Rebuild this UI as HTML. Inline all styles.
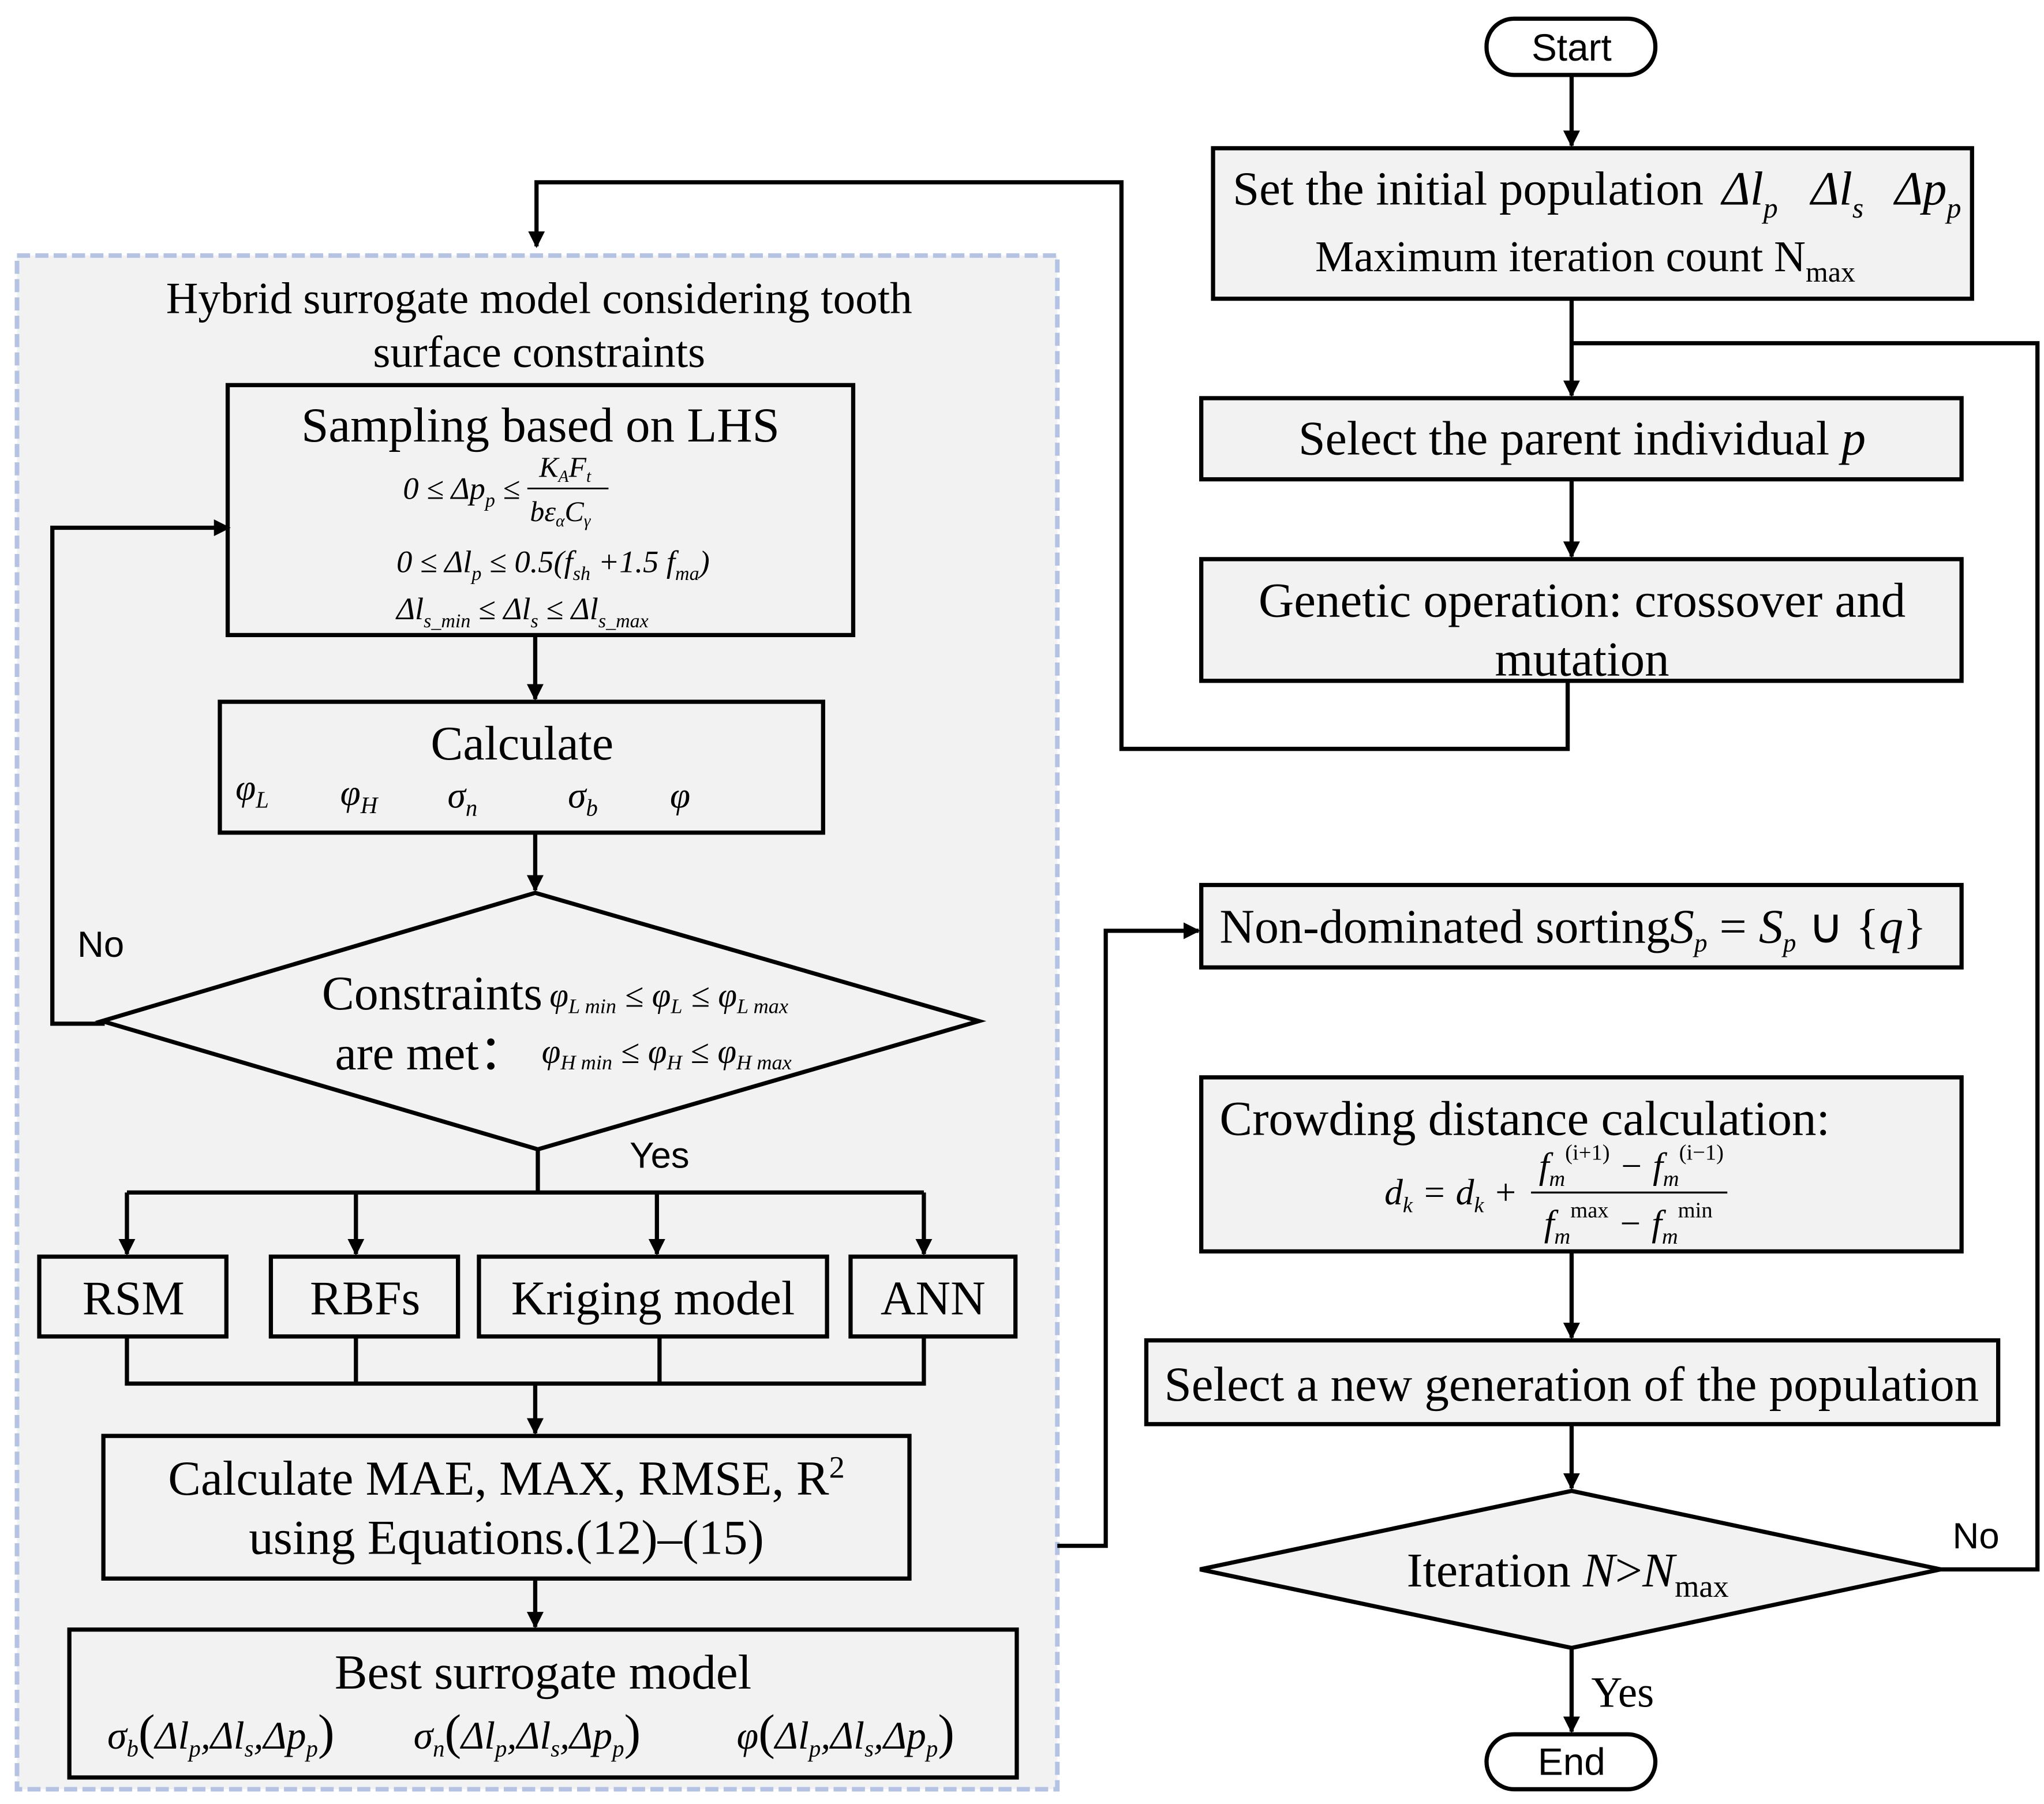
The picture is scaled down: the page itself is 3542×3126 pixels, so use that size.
<!DOCTYPE html>
<html><head><meta charset="utf-8"><style>
html,body{margin:0;padding:0;background:#fff}
svg{display:block}
.s{font-family:"Liberation Serif",serif;fill:#000}
.a{font-family:"Liberation Sans",sans-serif;fill:#000}
.i{font-style:italic}
</style></head><body>
<svg width="3542" height="3126" viewBox="0 0 1562 1378" xmlns="http://www.w3.org/2000/svg">
<defs><marker id="ar" viewBox="0 0 10 10" refX="9" refY="5" markerWidth="4" markerHeight="4" orient="auto"><path d="M0,0L10,5L0,10z" fill="#000"/></marker></defs>
<rect x="0" y="0" width="1562" height="1378" fill="#fff"/>
<rect x="13" y="195" width="795" height="1172" fill="#f2f2f2" stroke="#b4c3e3" stroke-width="3.5" stroke-dasharray="10,4"/>
<g fill="#f2f2f2" stroke="#000" stroke-width="3.2">
<rect x="1136" y="14" width="129" height="43" rx="21" fill="#fff"/>
<rect x="927" y="113" width="580" height="115"/>
<rect x="918" y="304" width="581" height="62"/>
<rect x="918" y="427" width="581" height="93"/>
<rect x="174" y="294" width="478" height="191"/>
<rect x="168" y="536" width="461" height="100"/>
<polygon points="409,682 748,780 411,878 78,780"/>
<rect x="30" y="960" width="143" height="61"/>
<rect x="207" y="960" width="143" height="61"/>
<rect x="366" y="960" width="266" height="61"/>
<rect x="650" y="960" width="126" height="61"/>
<rect x="79" y="1097" width="616" height="109"/>
<rect x="53" y="1245" width="724" height="113"/>
<rect x="918" y="676" width="581" height="63"/>
<rect x="918" y="823" width="581" height="133"/>
<rect x="876" y="1024" width="651" height="64"/>
<polygon points="1201,1139 1483,1199 1201,1259 917,1199"/>
<rect x="1136" y="1325" width="129" height="42" rx="21" fill="#fff"/>
</g>
<g fill="none" stroke="#000" stroke-width="3.2">
<line x1="1201" y1="57" x2="1201" y2="111" marker-end="url(#ar)"/>
<line x1="1201" y1="228" x2="1201" y2="302" marker-end="url(#ar)"/>
<polyline points="1483,1199 1557,1199 1557,262 1201,262"/>
<line x1="1201" y1="366" x2="1201" y2="425" marker-end="url(#ar)"/>
<polyline points="1198,520 1198,572 857,572 857,139 410,139 410,188" marker-end="url(#ar)"/>
<line x1="409" y1="485" x2="409" y2="534" marker-end="url(#ar)"/>
<line x1="409" y1="636" x2="409" y2="680" marker-end="url(#ar)"/>
<polyline points="80,782 40,782 40,403 175,403" marker-end="url(#ar)"/>
<line x1="411" y1="878" x2="411" y2="911"/>
<line x1="97" y1="911" x2="706" y2="911"/>
<line x1="97" y1="911" x2="97" y2="958" marker-end="url(#ar)"/>
<line x1="272" y1="911" x2="272" y2="958" marker-end="url(#ar)"/>
<line x1="502" y1="911" x2="502" y2="958" marker-end="url(#ar)"/>
<line x1="706" y1="911" x2="706" y2="958" marker-end="url(#ar)"/>
<polyline points="97,1021 97,1057 706,1057 706,1021"/>
<line x1="272" y1="1021" x2="272" y2="1057"/>
<line x1="504" y1="1021" x2="504" y2="1057"/>
<line x1="409" y1="1057" x2="409" y2="1095" marker-end="url(#ar)"/>
<line x1="409" y1="1206" x2="409" y2="1243" marker-end="url(#ar)"/>
<polyline points="808,1181 845,1181 845,711 916,711" marker-end="url(#ar)"/>
<line x1="1201" y1="956" x2="1201" y2="1022" marker-end="url(#ar)"/>
<line x1="1201" y1="1088" x2="1201" y2="1137" marker-end="url(#ar)"/>
<line x1="1201" y1="1259" x2="1201" y2="1323" marker-end="url(#ar)"/>
</g>
<g class="a" font-size="29" text-anchor="middle">
<text x="1201" y="46">Start</text>
<text x="1201" y="1356">End</text>
<text x="77" y="731" font-size="28">No</text>
<text x="504" y="892" font-size="28">Yes</text>
<text x="1510" y="1183" font-size="28">No</text>
</g>
<g class="s" font-size="37">
<text x="942" y="156" font-size="36.5">Set the initial population</text>
<text x="1316" y="156" class="i" font-size="36.5">Δl<tspan font-size="22" dy="10">p</tspan></text>
<text x="1384" y="156" class="i" font-size="36.5">Δl<tspan font-size="22" dy="10">s</tspan></text>
<text x="1448" y="156" class="i" font-size="36.5">Δp<tspan font-size="22" dy="10">p</tspan></text>
<text x="1005" y="207" font-size="33.5">Maximum iteration count N<tspan font-size="22" dy="8">max</tspan></text>
<text x="1209" y="347" text-anchor="middle">Select the parent individual <tspan class="i">p</tspan></text>
<text x="1209" y="471" text-anchor="middle" font-size="37.5">Genetic operation: crossover and</text>
<text x="1209" y="516" text-anchor="middle" font-size="37.5">mutation</text>
<text x="412" y="239" text-anchor="middle" font-size="34">Hybrid surrogate model considering tooth</text>
<text x="412" y="280" text-anchor="middle" font-size="34">surface constraints</text>
<text x="413" y="337" text-anchor="middle" font-size="37.5">Sampling based on LHS</text>
<g font-size="24" class="i">
<text x="308" y="381">0 ≤ Δp<tspan font-size="15" dy="6">p</tspan><tspan dy="-6"> ≤</tspan></text>
<text x="412" y="364" font-size="22">K<tspan font-size="13" dy="4">A</tspan><tspan dy="-4">F</tspan><tspan font-size="13" dy="4">t</tspan></text>
<line x1="403" y1="373" x2="465" y2="373" stroke="#000" stroke-width="1.3"/>
<text x="405" y="398" font-size="22">bε<tspan font-size="13" dy="4">α</tspan><tspan dy="-4">C</tspan><tspan font-size="13" dy="4">γ</tspan></text>
<text x="303" y="437">0 ≤ Δl<tspan font-size="15" dy="6">p</tspan><tspan dy="-6"> ≤ 0.5(f</tspan><tspan font-size="15" dy="6">sh</tspan><tspan dy="-6"> +1.5 f</tspan><tspan font-size="15" dy="6">ma</tspan><tspan dy="-6">)</tspan></text>
<text x="303" y="473">Δl<tspan font-size="15" dy="6">s_min</tspan><tspan dy="-6"> ≤ Δl</tspan><tspan font-size="15" dy="6">s</tspan><tspan dy="-6"> ≤ Δl</tspan><tspan font-size="15" dy="6">s_max</tspan></text>
</g>
<text x="399" y="580" text-anchor="middle">Calculate</text>
<g class="i" font-size="28">
<text x="180" y="611">φ<tspan font-size="18" dy="6">L</tspan></text>
<text x="260" y="615">φ<tspan font-size="18" dy="6">H</tspan></text>
<text x="342" y="617">σ<tspan font-size="18" dy="6">n</tspan></text>
<text x="434" y="617">σ<tspan font-size="18" dy="6">b</tspan></text>
<text x="512" y="617">φ</text>
</g>
<text x="246" y="771">Constraints</text>
<text x="256" y="817">are met：</text>
<g class="i" font-size="26">
<text x="420" y="769">φ<tspan font-size="16" dy="5">L min</tspan><tspan dy="-5"> ≤ φ</tspan><tspan font-size="16" dy="5">L</tspan><tspan dy="-5"> ≤ φ</tspan><tspan font-size="16" dy="5">L max</tspan></text>
<text x="414" y="812">φ<tspan font-size="16" dy="5">H min</tspan><tspan dy="-5"> ≤ φ</tspan><tspan font-size="16" dy="5">H</tspan><tspan dy="-5"> ≤ φ</tspan><tspan font-size="16" dy="5">H max</tspan></text>
</g>
<text x="102" y="1004" text-anchor="middle">RSM</text>
<text x="279" y="1004" text-anchor="middle">RBFs</text>
<text x="499" y="1004" text-anchor="middle">Kriging model</text>
<text x="713" y="1004" text-anchor="middle">ANN</text>
<text x="387" y="1142" text-anchor="middle" font-size="37.5">Calculate MAE, MAX, RMSE, R<tspan font-size="24" dy="-13">2</tspan></text>
<text x="387" y="1187" text-anchor="middle" font-size="37.5">using Equations.(12)–(15)</text>
<text x="415" y="1290" text-anchor="middle" font-size="37.5">Best surrogate model</text>
<g class="i" font-size="30">
<text x="82" y="1336">σ<tspan font-size="18" dy="6">b</tspan><tspan dy="-6" font-size="38" font-style="normal">(</tspan><tspan>Δl</tspan><tspan font-size="18" dy="6">p</tspan><tspan dy="-6">,Δl</tspan><tspan font-size="18" dy="6">s</tspan><tspan dy="-6">,Δp</tspan><tspan font-size="18" dy="6">p</tspan><tspan dy="-6" font-size="38" font-style="normal">)</tspan></text>
<text x="316" y="1336">σ<tspan font-size="18" dy="6">n</tspan><tspan dy="-6" font-size="38" font-style="normal">(</tspan><tspan>Δl</tspan><tspan font-size="18" dy="6">p</tspan><tspan dy="-6">,Δl</tspan><tspan font-size="18" dy="6">s</tspan><tspan dy="-6">,Δp</tspan><tspan font-size="18" dy="6">p</tspan><tspan dy="-6" font-size="38" font-style="normal">)</tspan></text>
<text x="563" y="1336">φ<tspan font-size="38" font-style="normal">(</tspan><tspan>Δl</tspan><tspan font-size="18" dy="6">p</tspan><tspan dy="-6">,Δl</tspan><tspan font-size="18" dy="6">s</tspan><tspan dy="-6">,Δp</tspan><tspan font-size="18" dy="6">p</tspan><tspan dy="-6" font-size="38" font-style="normal">)</tspan></text>
</g>
<text x="932" y="720">Non-dominated sorting<tspan class="i">S</tspan><tspan class="i" font-size="20" dy="7">p</tspan><tspan dy="-7"> = </tspan><tspan class="i">S</tspan><tspan class="i" font-size="20" dy="7">p</tspan><tspan dy="-7"> ∪ {</tspan><tspan class="i">q</tspan><tspan>}</tspan></text>
<text x="932" y="867" font-size="37.5">Crowding distance calculation:</text>
<g class="i" font-size="28">
<text x="1058" y="920">d<tspan font-size="17" dy="6">k</tspan><tspan dy="-6"> = d</tspan><tspan font-size="17" dy="6">k</tspan><tspan dy="-6"> +</tspan></text>
<text x="1176" y="900">f<tspan font-size="17" dy="6">m</tspan><tspan font-size="17" dy="-20" font-style="normal">(i+1)</tspan><tspan dy="14"> − f</tspan><tspan font-size="17" dy="6">m</tspan><tspan font-size="17" dy="-20" font-style="normal">(i−1)</tspan></text>
<line x1="1170" y1="911" x2="1320" y2="911" stroke="#000" stroke-width="1.5"/>
<text x="1180" y="944">f<tspan font-size="17" dy="6">m</tspan><tspan font-size="17" dy="-20" font-style="normal">max</tspan><tspan dy="14"> − f</tspan><tspan font-size="17" dy="6">m</tspan><tspan font-size="17" dy="-20" font-style="normal">min</tspan></text>
</g>
<text x="1201" y="1070" text-anchor="middle" font-size="37.5">Select a new generation of the population</text>
<text x="1075" y="1212">Iteration <tspan class="i">N</tspan>&gt;<tspan class="i">N</tspan><tspan font-size="24" dy="8">max</tspan></text>
<text x="1240" y="1304" text-anchor="middle" font-size="33">Yes</text>
</g>
</svg>
</body></html>
